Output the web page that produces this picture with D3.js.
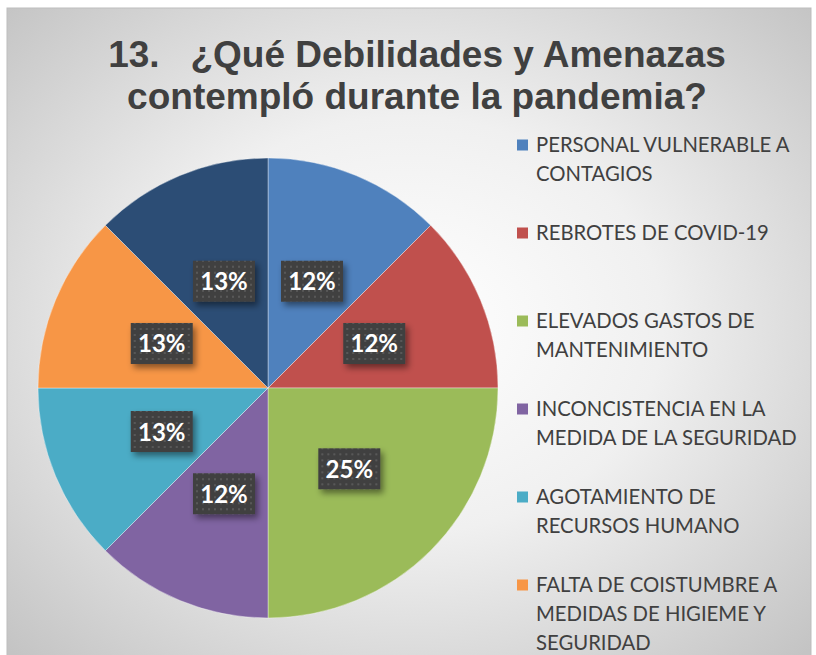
<!DOCTYPE html>
<html><head><meta charset="utf-8">
<script src="https://cdn.jsdelivr.net/npm/d3@7"></script>
<style>html,body{margin:0;padding:0;background:#fff;}svg{display:block;}</style>
</head><body>
<svg id="chart" width="816" height="655"></svg>
<script>
const categories = [
  "PERSONAL VULNERABLE A CONTAGIOS",
  "REBROTES DE COVID-19",
  "ELEVADOS GASTOS DE MANTENIMIENTO",
  "INCONCISTENCIA EN LA MEDIDA DE LA SEGURIDAD",
  "AGOTAMIENTO DE RECURSOS HUMANO",
  "FALTA DE COISTUMBRE A MEDIDAS DE HIGIEME Y SEGURIDAD",
  "OTROS"
];
const legendLines = [
  ["PERSONAL VULNERABLE A", "CONTAGIOS"],
  ["REBROTES DE COVID-19"],
  ["ELEVADOS GASTOS DE", "MANTENIMIENTO"],
  ["INCONCISTENCIA EN LA", "MEDIDA DE LA SEGURIDAD"],
  ["AGOTAMIENTO DE", "RECURSOS HUMANO"],
  ["FALTA DE COISTUMBRE A", "MEDIDAS DE HIGIEME Y", "SEGURIDAD"],
  [""]
];
const values = [1, 1, 2, 1, 1, 1, 1];
const percentLabels = ["12%", "12%", "25%", "12%", "13%", "13%", "13%"];
const colors = ["#4F81BD", "#C0504D", "#9BBB59", "#8064A2", "#4BACC6", "#F79646", "#2C4D75"];
const titleLines = ["13.   ¿Qué Debilidades y Amenazas", "contempló durante la pandemia?"];

const svg = d3.select("#chart");
const defs = svg.append("defs");

const bg = defs.append("radialGradient").attr("id", "bg")
  .attr("cx", "50%").attr("cy", "48%").attr("r", "70%");
bg.append("stop").attr("offset", "0%").attr("stop-color", "#ffffff");
bg.append("stop").attr("offset", "45%").attr("stop-color", "#f0f0f0");
bg.append("stop").attr("offset", "100%").attr("stop-color", "#c4c4c4");

const pat = defs.append("pattern").attr("id", "dots")
  .attr("patternUnits", "userSpaceOnUse").attr("width", 6).attr("height", 6);
pat.append("rect").attr("width", 6).attr("height", 6).attr("fill", "#404040");
pat.append("rect").attr("x", 2).attr("y", 2).attr("width", 2).attr("height", 2).attr("fill", "#595959");

const sh = defs.append("filter").attr("id", "shadow")
  .attr("x", "-30%").attr("y", "-30%").attr("width", "170%").attr("height", "180%");
sh.append("feDropShadow").attr("dx", 3).attr("dy", 4).attr("stdDeviation", 3)
  .attr("flood-color", "#000").attr("flood-opacity", 0.45);

// chart area
svg.append("rect").attr("x", 7).attr("y", 8).attr("width", 804).attr("height", 660)
  .attr("fill", "url(#bg)").attr("stroke", "#bdbdbd").attr("stroke-width", 1);

// title
svg.append("g").selectAll("text").data(titleLines).join("text")
  .attr("x", 417).attr("y", (d, i) => 67 + i * 42)
  .attr("text-anchor", "middle")
  .style("white-space", "pre")
  .attr("font-family", "'Liberation Sans', Arial, sans-serif")
  .attr("font-weight", "bold").attr("font-size", 37)
  .attr("fill", "#404040")
  .text(d => d);

// pie
const cx = 268, cy = 388, R = 230;
const pie = d3.pie().value(d => d).sort(null);
const arcs = pie(values);
const arc = d3.arc().innerRadius(0).outerRadius(R);
const g = svg.append("g").attr("transform", `translate(${cx},${cy})`);
g.selectAll("path").data(arcs).join("path")
  .attr("d", arc).attr("fill", (d, i) => colors[i])
  .attr("stroke", "#ffffff").attr("stroke-opacity", 0.5).attr("stroke-width", 0.75);

const lbl = g.selectAll("g.lbl").data(arcs).join("g").attr("class", "lbl")
  .attr("transform", d => { const c = arc.centroid(d); return `translate(${c[0]},${c[1]})`; });
lbl.append("rect").attr("x", -31).attr("y", -21).attr("width", 62).attr("height", 41)
  .attr("fill", "url(#dots)").attr("filter", "url(#shadow)");
lbl.append("text").attr("text-anchor", "middle").attr("y", 8.5)
  .attr("font-family", "Lato, 'Open Sans', sans-serif").attr("font-weight", "bold")
  .attr("font-size", 24).attr("fill", "#ffffff")
  .text((d, i) => percentLabels[i]);

// legend
const leg = svg.append("g");
const itemY0 = 145, itemStep = 88, lineH = 29;
const items = leg.selectAll("g").data(categories).join("g")
  .attr("transform", (d, i) => `translate(0,${itemY0 + i * itemStep})`);
items.append("rect").attr("x", 517).attr("y", -5.5).attr("width", 11).attr("height", 11)
  .attr("fill", (d, i) => colors[i]);
items.each(function(d, i) {
  d3.select(this).selectAll("text").data(legendLines[i]).join("text")
    .attr("x", 536).attr("y", (t, j) => 7 + j * lineH)
    .attr("font-family", "Lato, 'Open Sans', sans-serif")
    .attr("font-size", 20.3).attr("fill", "#404040")
    .text(t => t);
});
</script>
</body></html>
